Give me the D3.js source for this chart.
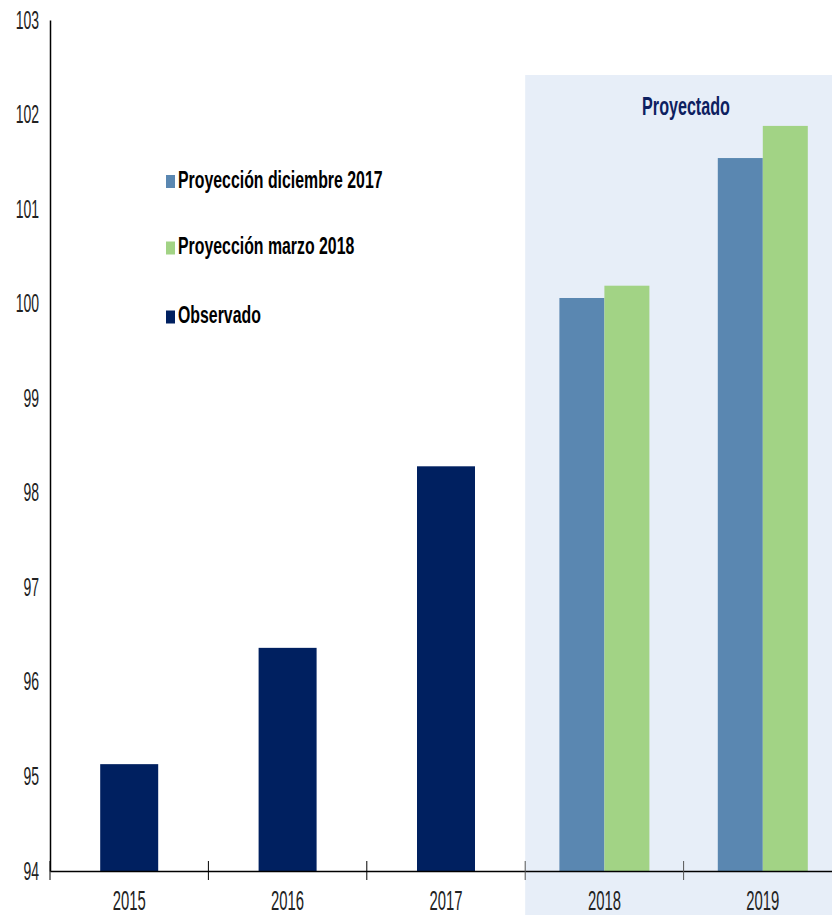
<!DOCTYPE html>
<html>
<head>
<meta charset="utf-8">
<script src="https://cdn.jsdelivr.net/npm/d3@7"></script>
<style>
  body { margin: 0; background: #fff; }
  text { font-family: "Liberation Sans", Arial, sans-serif; }
</style>
</head>
<body>
<div id="chart"></div>
<script>
// data
const years = ["2015", "2016", "2017", "2018", "2019"];
const observado = [95.13, 96.36, 98.28, null, null];
const proyDic2017 = [null, null, null, 100.06, 101.54];
const proyMar2018 = [null, null, null, 100.19, 101.88];
const yTicks = [94, 95, 96, 97, 98, 99, 100, 101, 102, 103];
const seriesNames = ["Proyección diciembre 2017", "Proyección marzo 2018", "Observado"];
const seriesColors = ["#5a87b1", "#a2d385", "#002060"];

const W = 832, H = 915;
const svg = d3.select("#chart").append("svg")
    .attr("width", W).attr("height", H);

// the original is a horizontally squeezed picture -> squeeze text too
function narrow(sel, origin, k) {
    sel.style("transform-box", "fill-box")
       .style("transform-origin", origin)
       .style("transform", `scaleX(${k})`);
}

// scales
const x = d3.scaleBand().domain(years).range([50, 842]);
const y = d3.scaleLinear().domain([94, 103]).range([871, 20]);

// shaded "projected" region
svg.append("rect")
    .attr("x", x("2018")).attr("y", 75)
    .attr("width", W - x("2018")).attr("height", H - 75)
    .attr("fill", "#e7eef8");

svg.append("text")
    .attr("x", 686)
    .attr("y", 115)
    .attr("text-anchor", "middle")
    .attr("font-weight", "bold")
    .attr("font-size", 26)
    .attr("fill", "#0d2060")
    .text("Proyectado")
    .call(narrow, "center", 0.62);

// observed bars
const obsW = 58;
svg.append("g").selectAll("rect")
    .data(years.map((yr, i) => ({yr, v: observado[i]})).filter(d => d.v != null))
    .join("rect")
    .attr("x", d => x(d.yr) + x.bandwidth() / 2 - obsW / 2)
    .attr("y", d => y(d.v))
    .attr("width", obsW)
    .attr("height", d => y(94) - y(d.v))
    .attr("fill", seriesColors[2]);

// projected bars, side by side
const pw = 45;
[proyDic2017, proyMar2018].forEach((vals, s) => {
    svg.append("g").selectAll("rect")
        .data(years.map((yr, i) => ({yr, v: vals[i]})).filter(d => d.v != null))
        .join("rect")
        .attr("x", d => x(d.yr) + x.bandwidth() / 2 - pw + s * pw)
        .attr("y", d => y(d.v))
        .attr("width", pw)
        .attr("height", d => y(94) - y(d.v))
        .attr("fill", seriesColors[s]);
});

// y axis
const yAxis = svg.append("g")
    .attr("transform", "translate(50,0)")
    .call(d3.axisLeft(y).tickValues(yTicks).tickSize(0).tickPadding(11));
yAxis.select(".domain").attr("stroke", "#000").attr("stroke-width", 1.5);
yAxis.selectAll("text").attr("font-size", 25).attr("fill", "#222")
    .call(narrow, "right center", 0.56);

// x axis
const xAxis = svg.append("g")
    .attr("transform", "translate(0,871)")
    .call(d3.axisBottom(x).tickSize(0).tickPadding(20));
xAxis.select(".domain").attr("stroke", "#000").attr("stroke-width", 1.5);
xAxis.selectAll("text").attr("font-size", 27).attr("fill", "#222")
    .call(narrow, "center", 0.55);

// category separator ticks
svg.append("g").selectAll("line")
    .data(years)
    .join("line")
    .attr("x1", d => x(d)).attr("x2", d => x(d))
    .attr("y1", 861).attr("y2", 880)
    .attr("stroke", d => x(d) >= x("2018") ? "#555" : "#000")
    .attr("stroke-width", 1);

// legend
const legY = [181.5, 248, 317];
const leg = svg.append("g").selectAll("g")
    .data(seriesNames)
    .join("g")
    .attr("transform", (d, i) => `translate(166,${legY[i]})`);
leg.append("rect")
    .attr("x", 0).attr("y", -6.5)
    .attr("width", 9).attr("height", 13)
    .attr("fill", (d, i) => seriesColors[i]);
leg.append("text")
    .attr("x", 12).attr("y", 6)
    .attr("font-size", 23)
    .attr("font-weight", "bold")
    .attr("fill", "#000")
    .text(d => d)
    .call(narrow, "left center", 0.69);
</script>
</body>
</html>
